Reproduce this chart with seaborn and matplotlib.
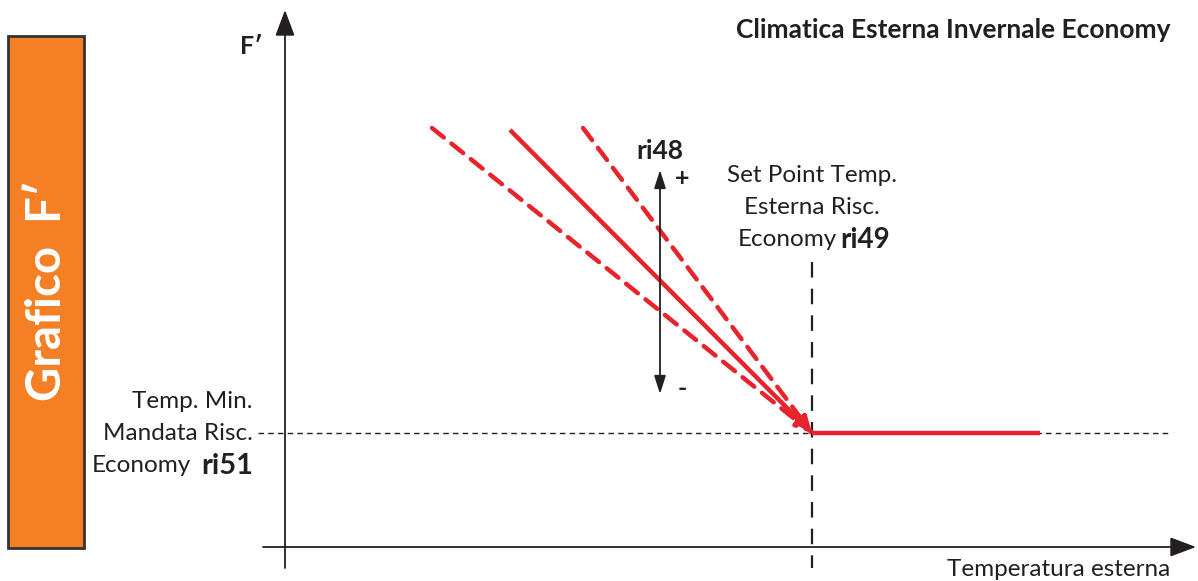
"""Schematic of the 'Climatica Esterna Invernale Economy' curve (F' vs outside temp)."""

import matplotlib.pyplot as plt
import seaborn as sns
from matplotlib.patches import Rectangle

# ---- values (pixel space of the 1198x581 picture) ----
# axes: origin of the drawing
y_axis_x = 285
x_axis_y = 547
y_axis_span = [568, 10]
x_axis_span = [263, 1196]

# set point ri49 (outside temp) and min supply temp ri51
setpoint_x = 812
min_supply_y = 433

# climatic curve ri48: start points of the three slopes (upper / nominal / lower)
curve_start_x = [583, 510, 432]
curve_start_y = [128, 130, 128]
curve_styles = ["dashed", "solid", "dashed"]
flat_end_x = 1040

# ri48 adjustment arrow
adj_x = 660
adj_span = [170, 394]

RED = "#E8232B"
ORANGE = "#F47F24"
INK = "#231F20"

sns.set_style("white")
plt.rcParams["font.family"] = ["Lato", "DejaVu Sans"]

fig = plt.figure(figsize=(11.98, 5.81), dpi=100)
ax = fig.add_axes([0, 0, 1, 1])
ax.set_xlim(0, 1198)
ax.set_ylim(581, 0)
ax.axis("off")

# side label box
ax.add_patch(Rectangle((8, 36), 76, 512, facecolor=ORANGE, edgecolor="#333333", lw=2))
ax.text(47, 291, "Grafico  F\u2032", rotation=90, ha="center", va="center",
        color="white", fontsize=34, fontweight="bold")

# axes with arrow heads
ax.annotate("", xy=(y_axis_x, y_axis_span[1]), xytext=(y_axis_x, y_axis_span[0]),
            arrowprops=dict(arrowstyle="-|>,head_length=1.6,head_width=0.6",
                            color=INK, lw=1.3, shrinkA=0, shrinkB=0))
ax.annotate("", xy=(x_axis_span[1], x_axis_y), xytext=(x_axis_span[0], x_axis_y),
            arrowprops=dict(arrowstyle="-|>,head_length=1.6,head_width=0.6",
                            color=INK, lw=1.3, shrinkA=0, shrinkB=0))

# guide lines
ax.plot([258, 1172], [min_supply_y, min_supply_y], color=INK, lw=1, ls=(0, (4, 3)))
ax.plot([setpoint_x, setpoint_x], [262, 568], color=INK, lw=1.6, ls=(0, (7, 5)))

# curve slopes
for sx, sy, st in zip(curve_start_x, curve_start_y, curve_styles):
    if st == "solid":
        ax.plot([sx, setpoint_x], [sy, min_supply_y], color=RED, lw=3.2,
                solid_capstyle="butt")
    else:
        ax.annotate("", xy=(setpoint_x, min_supply_y), xytext=(sx, sy),
                    arrowprops=dict(arrowstyle="-|>,head_length=0.9,head_width=0.35",
                                    color=RED, lw=3.2, ls=(0, (3.4, 2.2)),
                                    shrinkA=0, shrinkB=0))
ax.plot([setpoint_x, flat_end_x], [min_supply_y, min_supply_y], color=RED, lw=3.2,
        solid_capstyle="butt")

# ri48 adjustment arrow
ax.annotate("", xy=(adj_x, adj_span[0]), xytext=(adj_x, adj_span[1]),
            arrowprops=dict(arrowstyle="<|-|>,head_length=1.1,head_width=0.35",
                            color=INK, lw=1.3, shrinkA=0, shrinkB=0))
ax.text(adj_x, 151, "ri48", ha="center", va="center", fontsize=19,
        fontweight="bold", color=INK)
ax.text(682, 179, "+", ha="center", va="center", fontsize=18, fontweight="bold", color=INK)
ax.text(682, 389, "-", ha="center", va="center", fontsize=18, fontweight="bold", color=INK)

# labels
txt = dict(fontsize=17.5, color=INK)
ax.text(setpoint_x, 176, "Set Point Temp.", ha="center", va="center", **txt)
ax.text(setpoint_x, 208, "Esterna Risc.", ha="center", va="center", **txt)
ax.text(837, 240, "Economy", ha="right", va="center", **txt)
ax.text(840, 240, "ri49", ha="left", va="center", fontsize=20, fontweight="bold",
        color=INK)

ax.text(253, 402, "Temp. Min.", ha="right", va="center", **txt)
ax.text(253, 434, "Mandata Risc.", ha="right", va="center", **txt)
ax.text(191, 466, "Economy", ha="right", va="center", **txt)
ax.text(253, 466, "ri51", ha="right", va="center", fontsize=21, fontweight="bold",
        color=INK)

ax.text(263, 47, "F\u2032", ha="right", va="center", fontsize=18,
        fontweight="bold", color=INK)
ax.text(1170, 30, "Climatica Esterna Invernale Economy", ha="right", va="center",
        fontsize=19, fontweight="bold", color=INK)
ax.text(1170, 569, "Temperatura esterna", ha="right", va="center", **txt)

fig.savefig("out.png", dpi=100)
